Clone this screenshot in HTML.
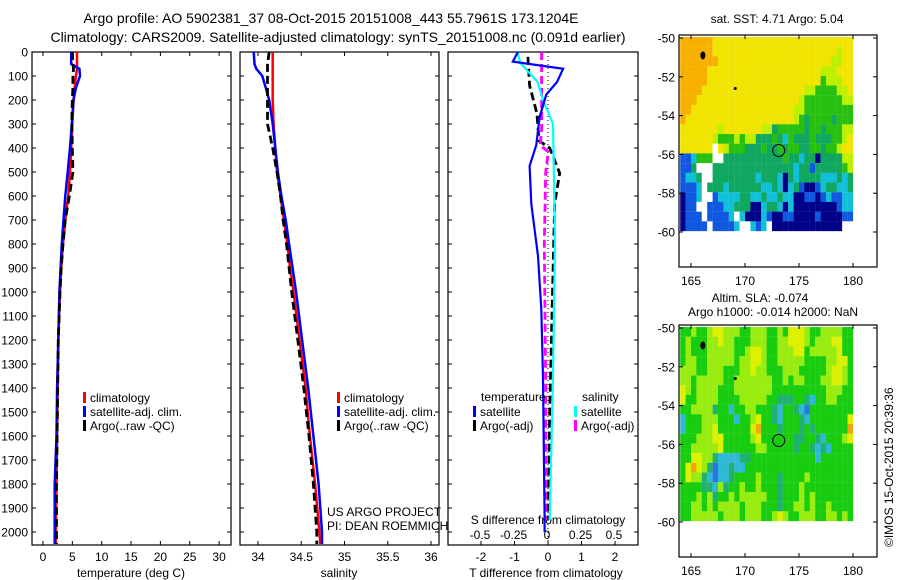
<!DOCTYPE html>
<html><head><meta charset="utf-8"><style>
html,body{margin:0;padding:0;background:#fff}
svg{display:block;font-family:"Liberation Sans",sans-serif}
</style></head><body>
<svg id="fig" width="900" height="580" viewBox="0 0 900 580">
<text x="331" y="23" font-size="14" text-anchor="middle">Argo profile: AO 5902381_37 08-Oct-2015 20151008_443 55.7961S 173.1204E</text>
<text x="338" y="42" font-size="14" text-anchor="middle">Climatology: CARS2009. Satellite-adjusted climatology: synTS_20151008.nc (0.091d earlier)</text>
<text x="131" y="577" font-size="12" text-anchor="middle">temperature (deg C)</text>
<text x="339" y="577" font-size="12" text-anchor="middle">salinity</text>
<text x="546" y="577" font-size="12" text-anchor="middle">T difference from climatology</text>
<text x="548" y="524" font-size="12" text-anchor="middle">S difference from climatology</text>
<text x="327" y="516" font-size="12">US ARGO PROJECT</text>
<text x="327" y="530" font-size="12">PI: DEAN ROEMMICH</text>
<text x="777" y="23" font-size="12" text-anchor="middle">sat. SST: 4.71  Argo: 5.04</text>
<text x="760" y="302" font-size="12" text-anchor="middle">Altim. SLA: -0.074</text>
<text x="773" y="316" font-size="12" text-anchor="middle">Argo h1000: -0.014 h2000: NaN</text>
<text x="0" y="0" font-size="12" transform="translate(893,547) rotate(-90)">©IMOS 15-Oct-2015 20:39:36</text>
</svg>
<script>
// ---------- data ----------
const depthTicks = [0,100,200,300,400,500,600,700,800,900,1000,1100,1200,1300,1400,1500,1600,1700,1800,1900,2000];
const tempTicks = [0,5,10,15,20,25,30];
const salTicks = [34,34.5,35,35.5,36];
const salTickLabels = ["34","34.5","35","35.5","36"];
const tdTicks = [-2,-1,0,1,2];
const sdTicks = [-0.5,-0.25,0,0.25,0.5];

const profDepth = [0,50,70,100,150,200,300,400,500,600,700,800,900,1000,1200,1400,1600,1800,2000,2050];
const tClim = [5.8,5.8,5.8,5.6,5.4,5.2,5.0,4.8,4.6,4.3,3.8,3.4,3.1,2.9,2.6,2.5,2.4,2.3,2.2,2.2];
const tSat  = [4.8,4.8,6.2,6.3,5.6,5.2,4.9,4.6,4.2,3.8,3.5,3.2,3.0,2.8,2.6,2.4,2.3,2.0,2.0,2.0];
const tArgo = [5.0,5.1,5.2,5.1,5.1,5.0,4.9,5.0,5.1,4.5,3.8,3.4,3.1,2.9,2.6,2.5,2.4,2.3,2.3,2.3];
const sClim = [34.17,34.17,34.17,34.17,34.17,34.17,34.18,34.2,34.22,34.26,34.3,34.34,34.37,34.41,34.48,34.55,34.6,34.66,34.71,34.72];
const sSat  = [33.95,33.96,33.98,34.05,34.09,34.13,34.17,34.2,34.23,34.27,34.32,34.36,34.40,34.44,34.51,34.58,34.64,34.70,34.74,34.74];
const sArgo = [34.13,34.11,34.11,34.11,34.11,34.11,34.11,34.17,34.22,34.26,34.29,34.33,34.36,34.39,34.46,34.53,34.59,34.64,34.68,34.68];

const tdSatDepth = [0,40,70,125,177,271,387,475,633,850,1071,1358,1940,2000];
const tdSat = [-0.9,-1.05,0.45,0.27,-0.05,-0.25,-0.35,-0.55,-0.5,-0.3,-0.2,-0.15,-0.1,-0.1];
const tdArgoDepth = [20,140,255,370,400,505,630,920,1500,1950];
const tdArgo = [-0.6,-0.55,-0.33,-0.27,0.05,0.35,0.2,0.15,0.05,0.0];
const sdSatDepth = [0,45,125,200,300,780,1350,1950];
const sdSat = [-0.22,-0.2,-0.07,-0.03,0.045,0.06,0.045,0.02];
const sdArgoDepth = [0,320,390,415,500,800,1400,1950];
const sdArgo = [-0.04,-0.04,-0.05,0.01,-0.01,-0.02,-0.01,-0.01];

const mapLonTicks = [165,170,175,180];
const mapLatTicks = [-50,-52,-54,-56,-58,-60];
const argoLon = 173.12, argoLat = -55.8;
const sstRows = [
"ooooooyyyyyyyyyyyyyyyyyyyyyyyyyy",
"ooooooyyyyyyyyyyyyyyyyyyyyyyylyy",
"oooooooyyyyyyyyyyyyyyyyyyyyyllyy",
"oooooyyyyyyyyyyyyyyyyyyyyylllyyy",
"oooooyyyyyyyyyyyyyyyyyyyyyglllyy",
"ooooyyyyyyyyyyyyyyyyyyyllgggglly",
"oooyyyyyyyyyyyyyyyyyyylgggggggll",
"ooyyyyyyyyyyyyyyyyyyyllggggggggg",
"oyyyyyyyyyyyyyyyyyyyylgtggggtggg",
"yyyyyyylyyyyyyylltgggggtggtgggll",
"yyyyyylggglglltttgtcgtttgtttggly",
"yyyyyywylgggtttgttgtggttggtgglyy",
"bbcgggwwtttttttttttgttcttnttttll",
"bbtwwwtttttttttttttttcttbtttttgl",
"bcctwwttttttttctttcntcttttccctct",
"bbbcwtttcttttttcctcnctbnnbcttcct",
"nbbcwwbccccttcctcctccnnbbnbcbbcc",
"nbbwwbbbcctttnncttcncnnnnnnnnbcc",
"nbbbwbbbbcwcnnncbnnbbnnnnbnnnnbb",
"nbbbbwbbbbcwwcbcwnnnnnnnnnnnnnww"];
const slaRows = [
"gglgglyylllgglllgglgyyylggllllgg",
"glgggllyllggglllggllyyylglllyygg",
"glggglllllgglyylgglllyyglllllygg",
"gllgglllllgllyylgglllllggggllyyg",
"lllgglllgggllyllggglllggggglyylg",
"llglllllgglllllllgglgllgggllyylg",
"ylgllllggglllllllgggggggggglllgg",
"yggllllgggglllllggtttggtcggllggg",
"gglllltggcggllgggtcggtcbgggggggg",
"cggglllgggcgglyggtcgggtcgggggggy",
"cgggllyggggggyogggtgggtgtggggggo",
"ggglllyyggggglyggggggttggtcgggly",
"gglllllyggggggllgggggtggtctcgggg",
"ggyylltccccttggggggggggggcgggggg",
"gyoyltbcctccgggggggggggggggggggg",
"gylltcbcctgggglgggtgggglgggggggg",
"ggggttcltgglgglgggtggglggggggggg",
"ggglgltgglglllllggtggglglggggggg",
"ggllglgllllglllgggtggllglgglgggg",
"gglllllglllglllgglylgglllggllglg"];

// ---------- rendering ----------
const NS="http://www.w3.org/2000/svg";
const svg=document.getElementById('fig');
function mk(tag,attrs,parent){const e=document.createElementNS(NS,tag);for(const k in attrs)e.setAttribute(k,attrs[k]);(parent||svg).appendChild(e);return e;}
const yD=d=>52+d*0.24;
const PB=545;
const xT=v=>43+v*5.87;
const xS=v=>258+(v-34)*86.5;
const xTD=v=>548+v*33.5;
const xSD=v=>547+v*134;

const panels=[[32,231,'temperature-panel'],[240,439,'salinity-panel'],[448,638,'difference-panel']];
panels.forEach(p=>{
  const r=mk('rect',{x:p[0],y:52,width:p[1]-p[0],height:PB-52,fill:'none',stroke:'#000','stroke-width':1.2});
  
  
  depthTicks.forEach(d=>{
    mk('line',{x1:p[0],x2:p[0]+4,y1:yD(d),y2:yD(d),stroke:'#000'});
    mk('line',{x1:p[1]-4,x2:p[1],y1:yD(d),y2:yD(d),stroke:'#000'});
  });
});
depthTicks.forEach(d=>{
  const t=mk('text',{x:28,y:yD(d)+4.5,'font-size':12,'text-anchor':'end'});
  t.textContent=d;
  
  
});
function xticks(vals,labels,fx,y,tickTop,nm){
  vals.forEach((v,i)=>{
    mk('line',{x1:fx(v),x2:fx(v),y1:PB,y2:PB-4,stroke:'#000'});
    if(tickTop) mk('line',{x1:fx(v),x2:fx(v),y1:52,y2:56,stroke:'#000'});
    const t=mk('text',{x:fx(v),y:y,'font-size':12,'text-anchor':'middle'});
    t.textContent=labels[i];
    
    
  });
}
xticks(tempTicks,tempTicks.map(String),xT,561,true,'temperature-tick-label');
xticks(salTicks,salTickLabels,xS,561,true,'salinity-tick-label');
xticks(tdTicks,tdTicks.map(String),xTD,561,false,'t-difference-tick-label');
sdTicks.forEach(v=>{
  const t=mk('text',{x:xSD(v),y:539,'font-size':12,'text-anchor':'middle'});
  t.textContent=String(v);
  
  
});

function line(depths,vals,fx,color,w,dash,nm){
  const pts=depths.map((d,i)=>fx(vals[i]).toFixed(1)+','+yD(d).toFixed(1)).join(' ');
  const a={points:pts,fill:'none',stroke:color,'stroke-width':w};
  if(dash)a['stroke-dasharray']=dash;
  const l=mk('polyline',a);
  
  
}
line(profDepth,tClim,xT,'#f00',2.5,null,'temperature-climatology-line');
line(profDepth,tSat,xT,'#00f',2.5,null,'temperature-satellite-line');
line(profDepth,tArgo,xT,'#000',2.8,'8,4','temperature-argo-line');
line(profDepth,sClim,xS,'#f00',2.5,null,'salinity-climatology-line');
line(profDepth,sSat,xS,'#00f',2.5,null,'salinity-satellite-line');
line(profDepth,sArgo,xS,'#000',2.8,'8,4','salinity-argo-line');
const z=mk('line',{x1:548,x2:548,y1:52,y2:PB,stroke:'#000','stroke-dasharray':'1,3'});


line(tdArgoDepth,tdArgo,xTD,'#000',2.8,'8,4','t-diff-argo-line');
line(sdArgoDepth,sdArgo,xSD,'#f0f',2.8,'8,4','s-diff-argo-line');
line(sdSatDepth,sdSat,xSD,'#0ff',2.2,null,'s-diff-satellite-line');
line(tdSatDepth,tdSat,xTD,'#00f',2.2,null,'t-diff-satellite-line');

function legend(x,y,color,label,nm){
  mk('rect',{x:x,y:y-9,width:3,height:11,fill:color});
  const t=mk('text',{x:x+7,y:y+1,'font-size':12});
  t.textContent=label;
  
  
}
[[0,'#f00','climatology'],[1,'#00f','satellite-adj. clim.'],[2,'#000','Argo(..raw -QC)']].forEach(e=>{
  legend(83,401+e[0]*14,e[1],e[2],'temp-legend-entry');
  legend(337,401+e[0]*14,e[1],e[2],'sal-legend-entry');
});
const lt1=mk('text',{x:481,y:401,'font-size':12});lt1.textContent='temperature';


const lt2=mk('text',{x:582,y:401,'font-size':12});lt2.textContent='salinity';


legend(473,415,'#00f','satellite','diff-legend-entry');
legend(473,429,'#000','Argo(-adj)','diff-legend-entry');
legend(574,415,'#0ff','satellite','diff-legend-entry');
legend(574,429,'#f0f','Argo(-adj)','diff-legend-entry');

const sstCols={o:'#f8b000',y:'#f0e400',l:'#bcf000',g:'#28c010',t:'#10a860',c:'#10c0d8',b:'#1058e0',n:'#000088',w:'#ffffff'};
const slaCols={o:'#f0a810',y:'#dcf000',l:'#98ec10',g:'#18cc10',t:'#20b070',c:'#30b8d8',b:'#2878e0'};
function drawMap(top,rows,cols,nm){
  const mx=lon=>691+(lon-165)*10.8;
  const my=lat=>top+3+(-50-lat)*19.4;
  const g=mk('g',{});
  
  
  rows.forEach((row,r)=>{
    for(let c=0;c<row.length;c++){
      const lon=164+c*0.5, lat=-50+0.05-r*0.5;
      mk('rect',{x:mx(lon).toFixed(2),y:my(lat).toFixed(2),width:5.5,height:9.8,fill:cols[row[c]]},g);
    }
  });
  mk('ellipse',{cx:mx(166.1),cy:my(-50.9),rx:2.5,ry:4,fill:'#000'},g);
  mk('ellipse',{cx:mx(169.1),cy:my(-52.6),rx:1.5,ry:1.5,fill:'#000'},g);
  const circ=mk('circle',{cx:mx(argoLon),cy:my(argoLat),r:6,fill:'none',stroke:'#000','stroke-width':1});
  
  
  const box=mk('rect',{x:679,y:top,width:198,height:232,fill:'none',stroke:'#000','stroke-width':1.2});
  
  
  mapLonTicks.forEach(v=>{
    mk('line',{x1:mx(v),x2:mx(v),y1:top,y2:top+4,stroke:'#000'});
    mk('line',{x1:mx(v),x2:mx(v),y1:top+232,y2:top+228,stroke:'#000'});
    const t=mk('text',{x:mx(v),y:top+250,'font-size':12,'text-anchor':'middle'});
    t.textContent=v;
    
    
  });
  mapLatTicks.forEach(v=>{
    mk('line',{x1:679,x2:683,y1:my(v),y2:my(v),stroke:'#000'});
    mk('line',{x1:873,x2:877,y1:my(v),y2:my(v),stroke:'#000'});
    const t=mk('text',{x:675,y:my(v)+4.5,'font-size':12,'text-anchor':'end'});
    t.textContent=v;
    
    
  });
}
drawMap(35,sstRows,sstCols,'sst-map');
drawMap(325,slaRows,slaCols,'sla-map');
</script>
</body></html>
